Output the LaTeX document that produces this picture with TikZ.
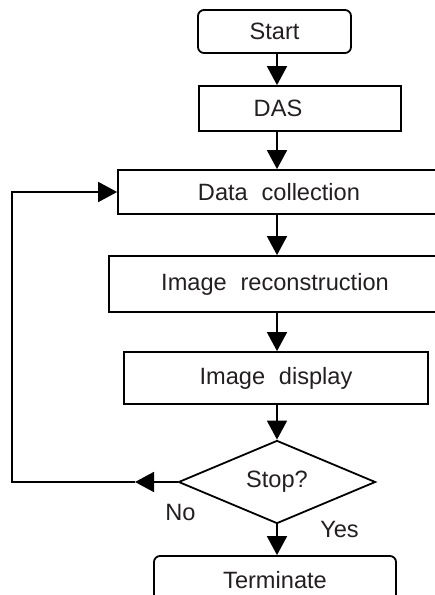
\documentclass[tikz,border=0pt]{standalone}
\usepackage{fontspec}
\setmainfont[WordSpace=2.1]{Liberation Sans}
\usetikzlibrary{arrows.meta,shapes.geometric}
\definecolor{inkgray}{RGB}{35,31,32}
\tikzset{
  stepbox/.style={draw=black, line width=1.8pt, inner sep=0pt, text=inkgray,
    font=\fontsize{23.6}{28}\selectfont},
  roundbox/.style={stepbox, rounded corners=6pt},
  decision/.style={stepbox, diamond, minimum width=197pt, minimum height=80pt},
  flow/.style={draw=black, line width=1.8pt,
    -{Triangle[length=19pt,width=20pt]}},
  answer/.style={text=inkgray, inner sep=0pt, anchor=base,
    font=\fontsize{23.6}{28}\selectfont}
}
\begin{document}
\begin{tikzpicture}[x=1pt,y=-1pt]
  \useasboundingbox (0,0) rectangle (435,595);
  \clip (0,0) rectangle (435,595);

  % vertical line that carries the main flow
  \coordinate (spine) at (277,0);

  \node[roundbox, minimum width=153pt, minimum height=43pt] (start) at (274.5,31.5) {Start};
  \node[stepbox, minimum width=202pt, minimum height=45pt,
        label={[stepbox, draw=none, xshift=-22pt]center:DAS}] (das) at (300,108.5) {};
  \node[stepbox, minimum width=322pt, minimum height=44pt] (collect) at (279,192) {Data collection};
  \node[stepbox, minimum width=332pt, minimum height=56pt] (recon) at (275,284) {Image reconstruction};
  \node[stepbox, minimum width=304pt, minimum height=52pt] (disp) at (276,378) {Image display};
  \node[decision] (stop) at (277,482) {Stop?};
  \node[roundbox, minimum width=242pt, minimum height=48pt] (term) at (275,580) {Terminate};

  % main sequence
  \draw[flow] (start.south -| spine) -- (das.north -| spine);
  \draw[flow] (das.south -| spine) -- (collect.north -| spine);
  \draw[flow] (collect.south -| spine) -- (recon.north -| spine);
  \draw[flow] (recon.south -| spine) -- (disp.north -| spine);
  \draw[flow] (disp.south -| spine) -- (stop.north);
  \draw[flow] (stop.south) -- (term.north -| spine);

  % loop back on "No"
  \coordinate (notip) at (135,482);
  \coordinate (loopcorner) at (12,482);
  \draw[flow] (stop.west) -- (notip);
  \draw[flow] (notip) -- (loopcorner) |- (collect.west);

  \node[answer] (nolabel) at (180.5,520) {No};
  \node[answer] (yeslabel) at (339.5,537) {Yes};
\end{tikzpicture}
\end{document}
